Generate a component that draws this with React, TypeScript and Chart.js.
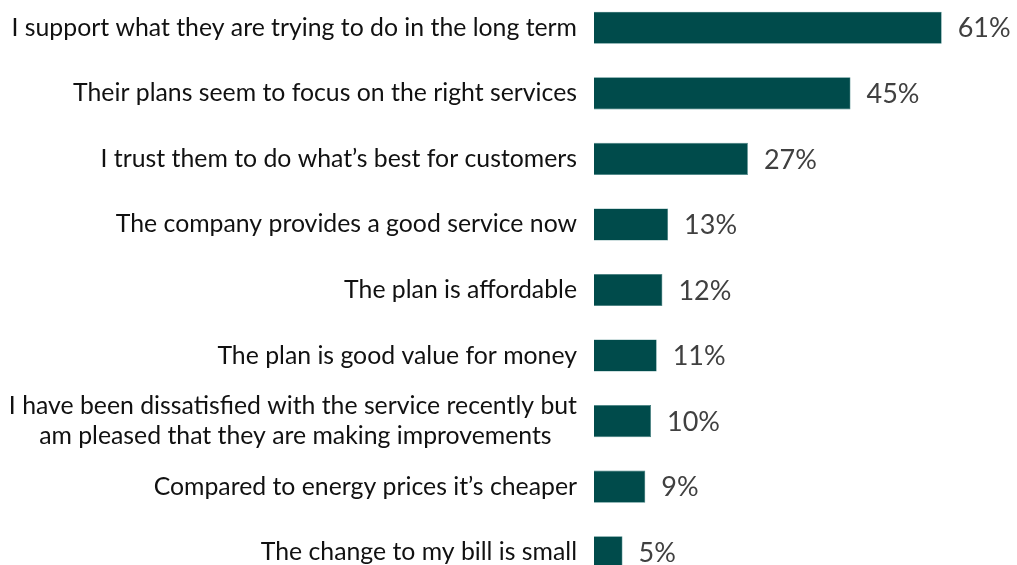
import React, { useEffect, useRef } from "react";
import { Chart, registerables } from "chart.js";

Chart.register(...registerables);

const categories: (string | string[])[] = [
  "I support what they are trying to do in the long term",
  "Their plans seem to focus on the right services",
  "I trust them to do what\u2019s best for customers",
  "The company provides a good service now",
  "The plan is affordable",
  "The plan is good value for money",
  ["I have been dissatisfied with the service recently but", "am pleased that they are making improvements"],
  "Compared to energy prices it\u2019s cheaper",
  "The change to my bill is small",
];
const values: number[] = [61, 45, 27, 13, 12, 11, 10, 9, 5];
const valueLabels: string[] = values.map((v) => `${v}%`);

const FONT = "Lato";
const TICK_SIZE = 24.8;

const measureCtx = document.createElement("canvas").getContext("2d")!;

// Centre the lines of multi-line labels on each other, as in the reference.
function centreLines(label: string | string[]): string | string[] {
  if (!Array.isArray(label)) return label;
  measureCtx.font = `${TICK_SIZE}px ${FONT}`;
  const widths = label.map((l) => measureCtx.measureText(l).width);
  const maxW = Math.max(...widths);
  const spaceW = measureCtx.measureText(" ").width;
  return label.map((l, i) => l + " ".repeat(Math.round((maxW - widths[i]) / 2 / spaceW)));
}

const valueLabelPlugin = {
  id: "valueLabels",
  afterDatasetsDraw(chart: any) {
    const ctx = chart.ctx;
    const meta = chart.getDatasetMeta(0);
    ctx.save();
    ctx.font = `27px ${FONT}`;
    ctx.fillStyle = "#404040";
    ctx.textAlign = "left";
    ctx.textBaseline = "middle";
    meta.data.forEach((bar: any, i: number) => {
      ctx.fillText(valueLabels[i], bar.x + 16, bar.y + 1);
    });
    ctx.restore();
  },
};

export default function App() {
  const ref = useRef<HTMLCanvasElement>(null);
  useEffect(() => {
    document.body.style.margin = "0";
    document.body.style.overflow = "hidden";
    const chart = new Chart(ref.current!, {
      type: "bar",
      data: {
        labels: categories,
        datasets: [
          {
            data: values,
            backgroundColor: "#004B4B",
            borderColor: "#3f7f7f",
            borderWidth: 0.6,
            categoryPercentage: 1,
            barPercentage: 0.49,
          },
        ],
      },
      options: {
        indexAxis: "y",
        animation: false,
        responsive: false,
        maintainAspectRatio: false,
        layout: { padding: { left: 0, right: 24, top: 0, bottom: 0 } },
        plugins: { legend: { display: false }, tooltip: { enabled: false } },
        scales: {
          x: { display: false, min: 0, max: 70 },
          y: {
            grid: { display: false, drawTicks: false },
            border: { display: false },
            ticks: {
              padding: 17,
              color: "#111111",
              font: { family: FONT, size: TICK_SIZE, lineHeight: 1.2 },
              callback(_v: any, index: number) {
                return centreLines(categories[index]);
              },
            },
            afterFit(scale: any) {
              scale.width = 594;
              scale.paddingTop = 0;
              scale.paddingBottom = 0;
            },
          },
        },
      },
      plugins: [valueLabelPlugin],
    });
    return () => chart.destroy();
  }, []);
  return (
    <div style={{ position: "absolute", left: 0, top: -5, width: 1017, height: 590 }}>
      <canvas ref={ref} width={1017} height={590} style={{ width: 1017, height: 590 }} />
    </div>
  );
}
